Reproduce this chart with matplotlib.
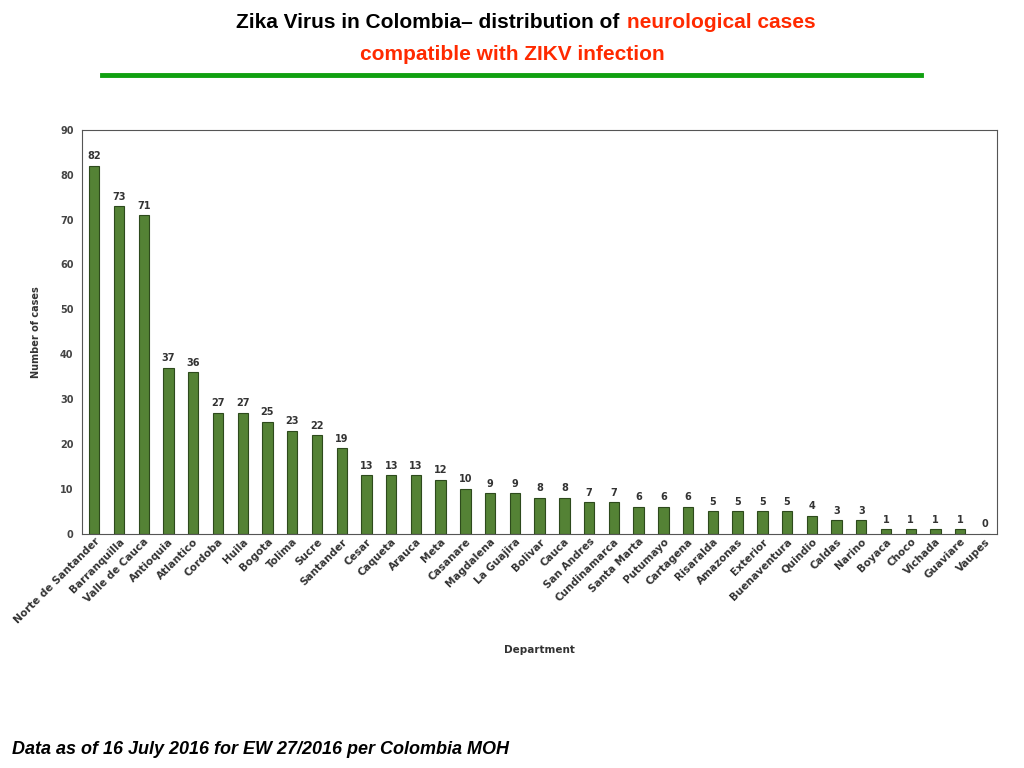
import matplotlib
matplotlib.use("Agg")
import matplotlib.pyplot as plt
from matplotlib.lines import Line2D

departments = ["Norte de Santander","Barranquilla","Valle de Cauca","Antioquia","Atlantico",
 "Cordoba","Huila","Bogota","Tolima","Sucre","Santander","Cesar","Caqueta","Arauca","Meta",
 "Casanare","Magdalena","La Guajira","Bolivar","Cauca","San Andres","Cundinamarca","Santa Marta",
 "Putumayo","Cartagena","Risaralda","Amazonas","Exterior","Buenaventura","Quindio","Caldas",
 "Narino","Boyaca","Choco","Vichada","Guaviare","Vaupes"]
cases = [82,73,71,37,36,27,27,25,23,22,19,13,13,13,12,10,9,9,8,8,7,7,6,6,6,5,5,5,5,4,3,3,1,1,1,1,0]

fig = plt.figure(figsize=(10.24,7.68), dpi=100)
ax = fig.add_axes([0.080,0.305,0.894,0.526])
x = range(len(departments))
bars = ax.bar(x, cases, width=0.42, color="#548235", edgecolor="#2d4a1c", linewidth=0.8)
for xi, v in zip(x, cases):
    ax.text(xi, v+1, str(v), ha="center", va="bottom", fontsize=7, fontweight="bold", color="#333333")
ax.set_xlim(-0.5, len(departments)-0.5)
ax.set_ylim(0, 90)
ax.set_yticks(range(0, 91, 10))
ax.tick_params(axis="y", labelsize=7, length=0, pad=6)
ax.tick_params(axis="x", length=0, pad=2)
for t in ax.get_yticklabels():
    t.set_fontweight("bold"); t.set_color("#444444")
ax.set_xticks(list(x))
ax.set_xticklabels(departments, rotation=45, ha="right", rotation_mode="anchor", fontsize=7.5, fontweight="bold", color="#333333")
ax.set_ylabel("Number of cases", fontsize=7, fontweight="bold", color="#333333", labelpad=14)
ax.set_xlabel("Department", fontsize=7.5, fontweight="bold", color="#333333", labelpad=14)
for s in ax.spines.values():
    s.set_color("#555555"); s.set_linewidth(0.8)

fig.text(625/1024, 1-22/768, "Zika Virus in Colombia\u2013 distribution of ", ha="right", va="center",
         fontsize=15, fontweight="bold", color="black", family="Liberation Sans")
fig.text(627/1024, 1-22/768, "neurological cases", ha="left", va="center",
         fontsize=15, fontweight="bold", color="#ff2a00", family="Liberation Sans")
fig.text(512/1024, 1-54/768, "compatible with ZIKV infection", ha="center", va="center",
         fontsize=15, fontweight="bold", color="#ff2a00", family="Liberation Sans")
fig.add_artist(Line2D([102/1024, 921/1024], [1-75/768]*2, color="#10a010", linewidth=3.5))
fig.text(12/1024, 1-750/768, "Data as of 16 July 2016 for EW 27/2016 per Colombia MOH", ha="left", va="center",
         fontsize=13, fontweight="bold", style="italic", color="black", family="Liberation Sans")
fig.savefig("out.png", dpi=100)
